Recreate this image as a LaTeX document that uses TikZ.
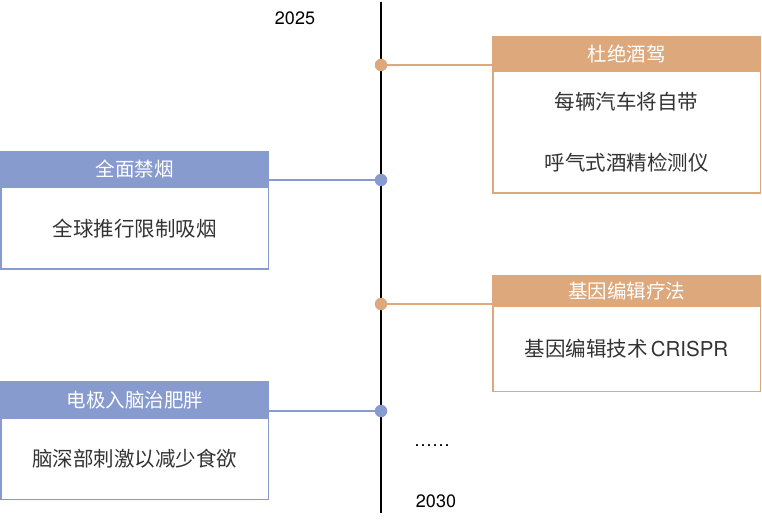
\documentclass[tikz,border=0pt]{standalone}
\usepackage{fontspec}
\setmainfont{TeX Gyre Heros}
\newfontfamily\cjk{Noto Sans CJK SC}
\usetikzlibrary{positioning}
\definecolor{tlorange}{HTML}{DDA87C}
\definecolor{tlblue}{HTML}{889BCE}
\definecolor{tltext}{HTML}{333333}

\begin{document}
\begin{tikzpicture}[x=1pt, y=-1pt,
        head/.style={fill=#1, draw=#1, line width=1.5pt, outer sep=0pt, inner sep=0pt, minimum width=267.5pt, text=white, font=\cjk\fontsize{19.5}{22}\selectfont},
        body/.style={draw=#1, fill=white, line width=1.5pt, outer sep=0pt, inner sep=0pt, minimum width=267.5pt, text=tltext, align=center, font=\cjk\fontsize{20.5}{61}\selectfont},
        dot/.style={fill=#1, circle, minimum size=12.5pt, inner sep=0pt},
        link/.style={draw=#1, line width=1.5pt},
        year/.style={font=\fontsize{18}{20}\selectfont, inner sep=0pt}]
    \useasboundingbox (0,0) rectangle (762,526);
    % time axis
    \coordinate (tlTop) at (381,2);
    \coordinate (tlEnd) at (381,513);
    \draw[line width=1.5pt] (tlTop) -- (tlEnd);
    \node[year] (y2025) at (295,18) {2025};
    \node[year] (more) at (432,446) {……};
    \node[year] (y2030) at (436,501) {2030};
    % events
    \node[head=tlorange, minimum height=34.5pt] (hdA) at (626.5,54) {杜绝酒驾};
    \node[body=tlorange, minimum height=122pt, below=0pt of hdA] (bodyA) {每辆汽车将自带\\呼气式酒精检测仪};
    \node[head=tlblue, minimum height=35.5pt] (hdB) at (134.75,169.5) {全面禁烟};
    \node[body=tlblue, minimum height=82pt, below=0pt of hdB] (bodyB) {全球推行限制吸烟};
    \node[head=tlorange, minimum height=30.5pt] (hdC) at (626.5,291) {基因编辑疗法};
    \node[body=tlorange, minimum height=85pt, below=0pt of hdC] (bodyC) {基因编辑技术\hspace{3pt}{\rmfamily CRISPR}};
    \node[head=tlblue, minimum height=36.5pt] (hdD) at (134.75,400) {电极入脑治肥胖};
    \node[body=tlblue, minimum height=81pt, below=0pt of hdD] (bodyD) {脑深部刺激以减少食欲};
    % marks on the axis
    \node[dot=tlorange] (dotA) at (381,65) {};
    \node[dot=tlblue] (dotB) at (381,180) {};
    \node[dot=tlorange] (dotC) at (381,304) {};
    \node[dot=tlblue] (dotD) at (381,411) {};
    \draw[link=tlorange] (dotA) -- (dotA -| hdA.west);
    \draw[link=tlblue] (dotB) -- (dotB -| hdB.east);
    \draw[link=tlorange] (dotC) -- (dotC -| hdC.west);
    \draw[link=tlblue] (dotD) -- (dotD -| hdD.east);
\end{tikzpicture}
\end{document}
